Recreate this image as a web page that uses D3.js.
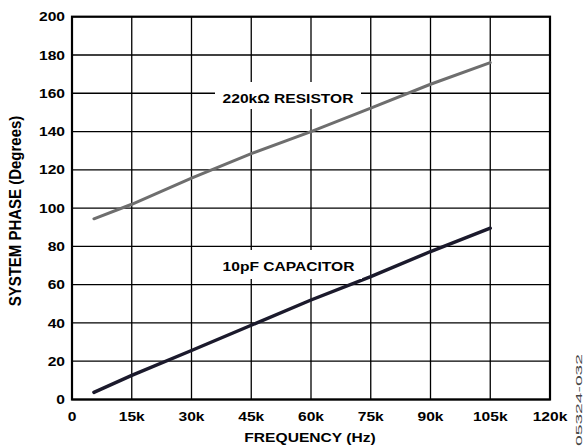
<!DOCTYPE html>
<html>
<head>
<meta charset="utf-8">
<script src="https://cdn.jsdelivr.net/npm/d3@7"></script>
<style>
  body { margin: 0; background: #fff; }
  svg text { font-family: "Liberation Sans", Arial, sans-serif; }
</style>
</head>
<body>
<div id="chart"></div>
<script>
// values
var freqHz = [5500, 15000, 30000, 45000, 60000, 75000, 90000, 105000];
var resistorPhase = [94.4, 102, 115.6, 128.5, 140, 152.2, 164.7, 176];
var capacitorPhase = [3.7, 12.6, 25.6, 38.8, 52, 64.2, 77.3, 89.5];
var xTicks = [0, 15000, 30000, 45000, 60000, 75000, 90000, 105000, 120000];
var xTickLabels = ["0", "15k", "30k", "45k", "60k", "75k", "90k", "105k", "120k"];
var yTicks = [0, 20, 40, 60, 80, 100, 120, 140, 160, 180, 200];

var W = 587, H = 447;
var margin = { top: 16.7, right: 37, bottom: 47.5, left: 72 };
var width = W - margin.left - margin.right,
    height = H - margin.top - margin.bottom;

var svg = d3.select("#chart").append("svg").attr("width", W).attr("height", H);
var g = svg.append("g").attr("transform", "translate(" + margin.left + "," + margin.top + ")");

var x = d3.scaleLinear().domain([0, 120000]).range([0, width]);
var y = d3.scaleLinear().domain([0, 200]).range([height, 0]);

// grid lines
g.append("g").selectAll("line").data(xTicks).join("line")
    .attr("x1", d => x(d)).attr("x2", d => x(d))
    .attr("y1", 0).attr("y2", height)
    .attr("stroke", "#000").attr("stroke-width", 1.3);
g.append("g").selectAll("line").data(yTicks).join("line")
    .attr("x1", 0).attr("x2", width)
    .attr("y1", d => y(d)).attr("y2", d => y(d))
    .attr("stroke", "#000").attr("stroke-width", 1.3);

// frame
g.append("rect").attr("width", width).attr("height", height)
    .attr("fill", "none").attr("stroke", "#000").attr("stroke-width", 2.2);

// helper for the slightly wide text of the original
function wideText(sel, tx, ty, str, anchor, size) {
    return sel.append("text")
        .attr("transform", "translate(" + tx + "," + ty + ") scale(1.2,1)")
        .attr("text-anchor", anchor)
        .attr("font-size", size + "px")
        .attr("font-weight", "bold")
        .attr("fill", "#000")
        .text(str);
}

// x tick labels
xTicks.forEach(function (d, i) {
    wideText(g, x(d), height + 21.5, xTickLabels[i], "middle", 13);
});
// y tick labels
yTicks.forEach(function (d) {
    wideText(g, -7, y(d) + 4.6, String(d), "end", 13);
});

// axis titles
wideText(svg, 310, 441.5, "FREQUENCY (Hz)", "middle", 13);
svg.append("text")
    .attr("transform", "translate(20.5,211) scale(1.05,1) rotate(-90)")
    .attr("text-anchor", "middle")
    .attr("font-size", "15px")
    .attr("font-weight", "bold")
    .text("SYSTEM PHASE (Degrees)");

// white boxes behind the labels
svg.append("rect").attr("x", 215).attr("y", 82).attr("width", 146).attr("height", 27).attr("fill", "#fff");
svg.append("rect").attr("x", 215).attr("y", 250).attr("width", 147).attr("height", 29).attr("fill", "#fff");
wideText(svg, 288, 103.3, "220k\u03A9 RESISTOR", "middle", 13);
wideText(svg, 288.5, 270.7, "10pF CAPACITOR", "middle", 13);

// data lines
var line = d3.line().x((d, i) => x(freqHz[i])).y(d => y(d));
g.append("path").datum(resistorPhase)
    .attr("fill", "none").attr("stroke", "#6e6e6e").attr("stroke-width", 3)
    .attr("stroke-linecap", "round").attr("d", line);
g.append("path").datum(capacitorPhase)
    .attr("fill", "none").attr("stroke", "#1b1a2c").attr("stroke-width", 3.4)
    .attr("stroke-linecap", "round").attr("d", line);

// figure id
svg.append("text")
    .attr("transform", "translate(582,446) rotate(-90)")
    .attr("text-anchor", "start")
    .attr("font-size", "9.5px")
    .attr("fill", "#444")
    .attr("textLength", 92)
    .attr("lengthAdjust", "spacingAndGlyphs")
    .text("05324-032");
</script>
</body>
</html>
